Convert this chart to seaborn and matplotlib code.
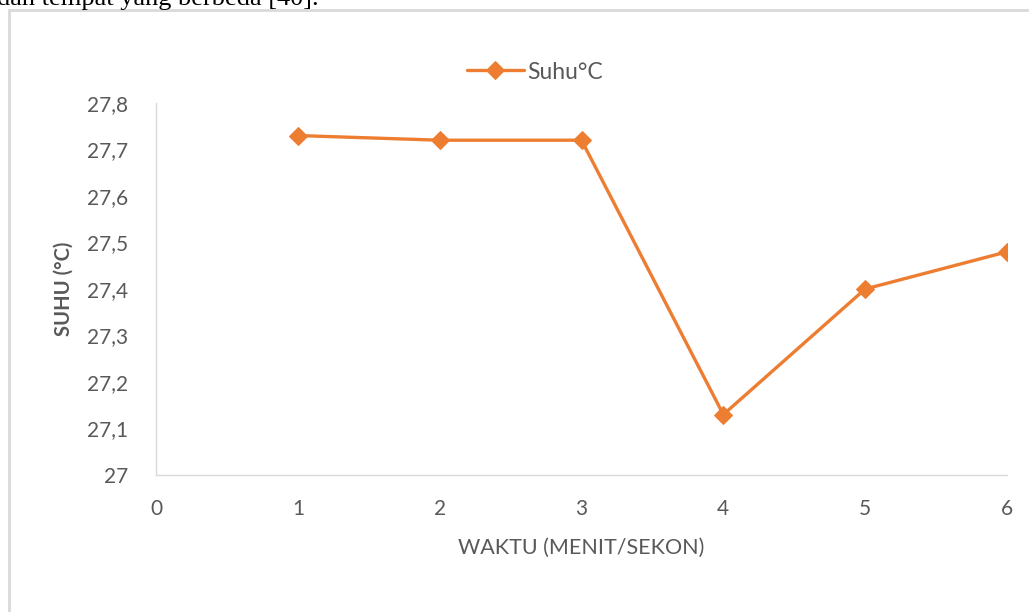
import matplotlib
matplotlib.use("Agg")
import matplotlib.pyplot as plt
import seaborn as sns
import pandas as pd
from matplotlib.patches import Rectangle
from matplotlib.ticker import FuncFormatter

# data
waktu = [1, 2, 3, 4, 5, 6]
suhu = [27.73, 27.72, 27.72, 27.13, 27.40, 27.48]
x_ticks = [0, 1, 2, 3, 4, 5, 6]
y_ticks = [27.0, 27.1, 27.2, 27.3, 27.4, 27.5, 27.6, 27.7, 27.8]

df = pd.DataFrame({"waktu": waktu, "suhu": suhu})

sns.set_theme(style="white")
plt.rcParams["font.family"] = ["Lato", "DejaVu Sans"]

grey = "#595959"
orange = "#ED7D31"

fig = plt.figure(figsize=(10.29, 6.12), dpi=100)
ax = fig.add_axes([156 / 1029, 1 - 475 / 612, (1007 - 156) / 1029, (475 - 103) / 612])

sns.lineplot(data=df, x="waktu", y="suhu", ax=ax, color=orange, linewidth=2.4,
             marker="D", markersize=9, markeredgecolor=orange, label="Suhu°C")

ax.set_xlim(0, 6)
ax.set_ylim(27.0, 27.8)
ax.set_xticks(x_ticks)
ax.set_yticks(y_ticks)
ax.yaxis.set_major_formatter(FuncFormatter(lambda v, p: f"{v:g}".replace(".", ",")))
ax.tick_params(axis="both", labelsize=15, colors=grey, length=0)
ax.tick_params(axis="x", pad=17)
ax.tick_params(axis="y", pad=20)

ax.set_xlabel("WAKTU (MENIT/SEKON)", fontsize=15.5, color=grey, labelpad=14)
ax.set_ylabel("SUHU (°C)", fontsize=14.5, color=grey, fontweight="bold", labelpad=10)

for s in ["top", "right"]:
    ax.spines[s].set_visible(False)
ax.spines["left"].set_color("#D9D9D9")
ax.spines["bottom"].set_color("#D9D9D9")
ax.spines["left"].set_linewidth(1.0)
ax.spines["bottom"].set_linewidth(1.0)

leg = ax.legend(loc="center", bbox_to_anchor=(0.445, 1 + 31 / 372), frameon=False,
                fontsize=16.5, handlelength=2.5, handletextpad=0.15)
for t in leg.get_texts():
    t.set_color(grey)

# border of the embedded chart
fig.patches.append(Rectangle((9 / 1029, -0.05), 1.1, 1 - 10 / 612 + 0.05,
                             transform=fig.transFigure, fill=False,
                             edgecolor="#D9D9D9", linewidth=2))

# cut-off text line above the chart
fig.text(-3 / 1029, 1 - 5 / 612, "dan tempat yang berbeda [40].", fontsize=19,
         family="Liberation Serif", color="black", va="baseline", ha="left")

fig.savefig("out.png", dpi=100)
